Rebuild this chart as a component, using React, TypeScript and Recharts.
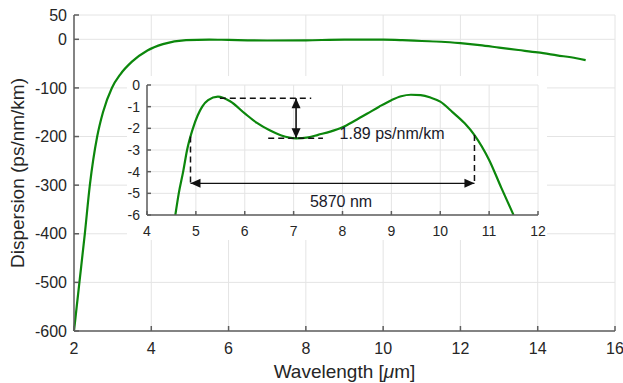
import React from "react";
import {
  LineChart,
  Line,
  XAxis,
  YAxis,
  CartesianGrid,
  ReferenceLine,
  ReferenceDot,
  Label,
} from "recharts";

// main curve
const mainWavelength = [
  2.0, 2.07, 2.14, 2.28, 2.41, 2.6, 2.75, 2.98, 3.2, 3.5, 3.9, 4.3, 4.9, 5.5, 6, 7, 8, 9,
  10, 10.5, 11, 11.5, 12, 12.5, 13, 13.5, 14, 14.5, 15, 15.24,
];
const mainDispersion = [
  -600, -550, -500, -400, -300, -200, -150, -100, -72, -46, -23, -10, -1.5, -0.5, -1.3,
  -2.5, -2, -0.7, -0.8, -1.8, -3.5, -5, -8, -12, -17, -22, -27, -33, -39, -43,
];
const mainXTicks = [2, 4, 6, 8, 10, 12, 14, 16];
const mainYTicks = [-600, -500, -400, -300, -200, -100, 0, 50];

// zoomed inset
const insetWavelength = [
  4.58, 4.65, 4.74, 4.82, 4.94, 5.13, 5.25, 5.45, 5.7, 6.0, 6.25, 6.5, 6.75, 7.05, 7.3,
  7.5, 7.75, 8.0, 8.25, 8.5, 8.75, 9.0, 9.2, 9.4, 9.6, 9.8, 10.0, 10.25, 10.5, 10.7, 11.0,
  11.25, 11.5,
];
const insetDispersion = [
  -6, -5, -4, -3, -2, -1, -0.7, -0.54, -0.75, -1.31, -1.75, -2.08, -2.33, -2.46, -2.42,
  -2.3, -2.15, -1.95, -1.65, -1.33, -1.0, -0.7, -0.52, -0.45, -0.47, -0.58, -0.77, -1.25,
  -1.77, -2.31, -3.46, -4.75, -6,
];
const insetXTicks = [4, 5, 6, 7, 8, 9, 10, 11, 12];
const insetYTicks = [-6, -5, -4, -3, -2, -1, 0];

// annotations in the inset
const peakLevel = -0.61;
const dipLevel = -2.46;
const peakDash = [5.49, 7.36];
const dipDash = [6.48, 7.6];
const rippleX = 7.05;
const spanEdges = [4.89, 10.7];
const spanTops = [-2.38, -2.31];
const spanLevel = -4.54;
const rippleText = "1.89 ps/nm/km";
const spanText = "5870 nm";

const mainData = mainWavelength.map((w, i) => ({ w, d: mainDispersion[i] }));
const insetData = insetWavelength.map((w, i) => ({ w, d: insetDispersion[i] }));

const FONT = '"Liberation Sans", Arial, sans-serif';
const AXIS = "#5e5e5e";
const GRID = "#e4e4e4";
const TEXT = "#262626";
const GREEN = "#0c870c";

function head(x: number, y: number, dx: number, dy: number, len: number, half: number) {
  const l = Math.hypot(dx, dy) || 1;
  const ux = dx / l;
  const uy = dy / l;
  const bx = x - ux * len;
  const by = y - uy * len;
  const pts = `${x},${y} ${bx - uy * half},${by + ux * half} ${bx + uy * half},${by - ux * half}`;
  return <polygon points={pts} fill="#111" />;
}

function DoubleArrow(props: any) {
  const { x1, y1, x2, y2, width } = props;
  return (
    <g>
      <line x1={x1} y1={y1} x2={x2} y2={y2} stroke="#111" strokeWidth={width} />
      {head(x1, y1, x1 - x2, y1 - y2, 10, 4.5)}
      {head(x2, y2, x2 - x1, y2 - y1, 10, 4.5)}
    </g>
  );
}

function Note(props: any) {
  const { cx, cy, anchor, text } = props;
  return (
    <text x={cx} y={cy} textAnchor={anchor} dominantBaseline="central" fontSize={16} fill="#1a1a2a">
      {text}
    </text>
  );
}

function XTitle(props: any) {
  const { viewBox } = props;
  return (
    <text x={viewBox.x + viewBox.width / 2} y={378} textAnchor="middle" fontSize={19} fill={TEXT}>
      Wavelength [<tspan fontStyle="italic">μ</tspan>m]
    </text>
  );
}

function YTitle() {
  return (
    <text x={24} y={173} transform="rotate(-90 24 173)" textAnchor="middle" fontSize={19} fill={TEXT}>
      Dispersion (ps/nm/km)
    </text>
  );
}

const dashed = { stroke: "#111", strokeWidth: 1.5, strokeDasharray: "6 4" };

export default function App() {
  return (
    <div style={page}>
      <LineChart width={623} height={383} data={mainData} margin={{ top: 15, right: 8, bottom: 0, left: 0 }}>
        <CartesianGrid stroke={GRID} />
        <XAxis
          dataKey="w"
          type="number"
          domain={[2, 16]}
          ticks={mainXTicks}
          interval={0}
          height={52}
          stroke={AXIS}
          strokeWidth={1.5}
          tickSize={-5}
          tickMargin={17}
          tick={{ fill: TEXT, fontSize: 16 }}
        >
          <Label content={<XTitle />} />
        </XAxis>
        <XAxis
          xAxisId="top"
          orientation="top"
          dataKey="w"
          type="number"
          domain={[2, 16]}
          ticks={mainXTicks}
          interval={0}
          height={0}
          stroke={AXIS}
          strokeWidth={1.5}
          tickSize={-5}
          tickFormatter={() => ""}
        />
        <YAxis
          type="number"
          domain={[-600, 50]}
          ticks={mainYTicks}
          interval={0}
          width={74}
          stroke={AXIS}
          strokeWidth={1.5}
          tickSize={-5}
          tickMargin={12}
          tick={{ fill: TEXT, fontSize: 16 }}
        >
          <Label content={<YTitle />} />
        </YAxis>
        <YAxis
          yAxisId="right"
          orientation="right"
          type="number"
          domain={[-600, 50]}
          ticks={mainYTicks}
          interval={0}
          width={0}
          stroke={AXIS}
          strokeWidth={1.5}
          tickSize={-5}
          tickFormatter={() => ""}
        />
        <Line dataKey="d" type="monotone" stroke={GREEN} strokeWidth={2.2} dot={false} isAnimationActive={false} />
      </LineChart>

      <div style={insetBox}>
        <LineChart width={420} height={164} data={insetData} margin={{ top: 9, right: 9, bottom: 0, left: 0 }}>
          <CartesianGrid stroke={GRID} />
          <XAxis
            dataKey="w"
            type="number"
            domain={[4, 12]}
            ticks={insetXTicks}
            interval={0}
            height={25}
            stroke={AXIS}
            strokeWidth={1.5}
            tickSize={-4}
            tickMargin={15}
            tick={{ fill: TEXT, fontSize: 14 }}
          />
          <XAxis
            xAxisId="top"
            orientation="top"
            dataKey="w"
            type="number"
            domain={[4, 12]}
            ticks={insetXTicks}
            interval={0}
            height={0}
            stroke={AXIS}
            strokeWidth={1.5}
            tickSize={-4}
            tickFormatter={() => ""}
          />
          <YAxis
            type="number"
            domain={[-6, 0]}
            ticks={insetYTicks}
            interval={0}
            allowDataOverflow
            width={20}
            stroke={AXIS}
            strokeWidth={1.5}
            tickSize={-4}
            tickMargin={11}
            tick={{ fill: TEXT, fontSize: 14 }}
          />
          <YAxis
            yAxisId="right"
            orientation="right"
            type="number"
            domain={[-6, 0]}
            ticks={insetYTicks}
            interval={0}
            width={0}
            stroke={AXIS}
            strokeWidth={1.5}
            tickSize={-4}
            tickFormatter={() => ""}
          />
          <Line dataKey="d" type="monotone" stroke={GREEN} strokeWidth={2.2} dot={false} isAnimationActive={false} />

          <ReferenceLine segment={[{ x: peakDash[0], y: peakLevel }, { x: peakDash[1], y: peakLevel }]} {...dashed} />
          <ReferenceLine segment={[{ x: dipDash[0], y: dipLevel }, { x: dipDash[1], y: dipLevel }]} {...dashed} />
          <ReferenceLine
            segment={[{ x: rippleX, y: peakLevel }, { x: rippleX, y: dipLevel }]}
            shape={(p: any) => <DoubleArrow {...p} width={1.6} />}
          />
          <ReferenceLine segment={[{ x: spanEdges[0], y: spanTops[0] }, { x: spanEdges[0], y: spanLevel }]} {...dashed} />
          <ReferenceLine segment={[{ x: spanEdges[1], y: spanTops[1] }, { x: spanEdges[1], y: spanLevel }]} {...dashed} />
          <ReferenceLine
            segment={[{ x: spanEdges[0], y: spanLevel }, { x: spanEdges[1], y: spanLevel }]}
            shape={(p: any) => <DoubleArrow {...p} width={1.1} />}
          />
          <ReferenceDot x={7.94} y={-2.26} r={0} shape={(p: any) => <Note {...p} anchor="start" text={rippleText} />} />
          <ReferenceDot x={7.97} y={-5.38} r={0} shape={(p: any) => <Note {...p} anchor="middle" text={spanText} />} />
        </LineChart>
      </div>
    </div>
  );
}

const page: React.CSSProperties = {
  position: "absolute",
  left: 0,
  top: 0,
  width: 623,
  height: 383,
  background: "#fff",
  fontFamily: FONT,
};

const insetBox: React.CSSProperties = {
  position: "absolute",
  left: 127,
  top: 76,
  width: 420,
  height: 164,
  background: "#fff",
};
